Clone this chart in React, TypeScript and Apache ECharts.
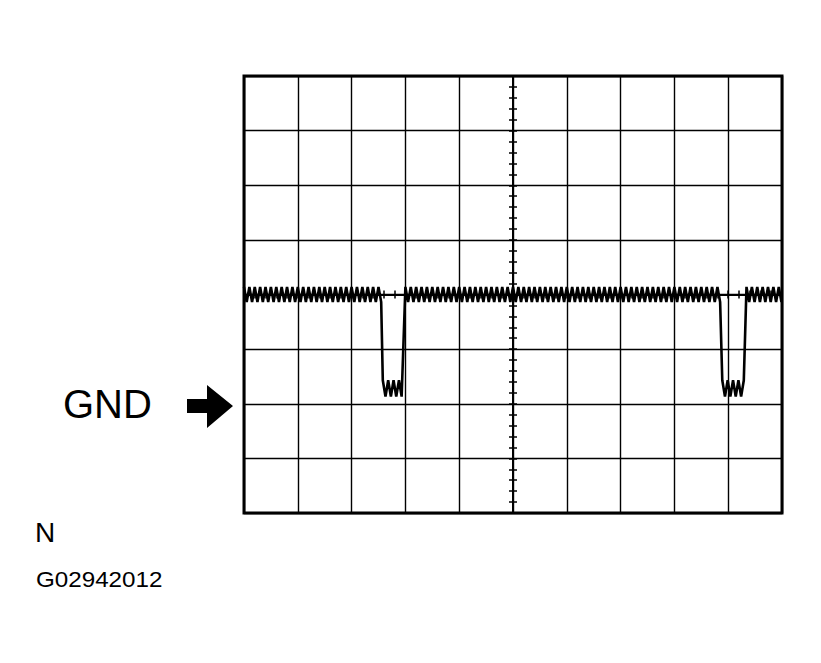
import { useEffect, useRef } from "react";
import * as echarts from "echarts";

// graticule in divisions, centre of the screen is 0,0
const X_MIN = -5;
const X_MAX = 5;
const Y_MIN = -4;
const Y_MAX = 4;

// trace: flat levels with a fine ripple on top
const segStart = [-5, -2.42, -2.0, 3.89, 4.34];
const segEnd = [-2.45, -2.04, 3.86, 4.3, 5];
const segLevel = [0, -1.72, 0, -1.72, 0];
const segRipple = [0.14, 0.15, 0.14, 0.15, 0.14];
const RIPPLE_STEP = 0.05; // half of one ripple period

function buildTrace(): number[][] {
    const pts: number[][] = [];
    segStart.forEach((from, i) => {
        let up = true;
        for (let x = from; x <= segEnd[i] + 1e-9; x += RIPPLE_STEP) {
            pts.push([x, segLevel[i] + (up ? segRipple[i] : -segRipple[i])]);
            up = !up;
        }
    });
    return pts;
}

export default function App() {
    const ref = useRef<HTMLDivElement>(null);

    useEffect(() => {
        if (!ref.current) return;
        const chart = echarts.init(ref.current, null, { renderer: "svg" });

        const centreAxis = (position: string, withGrid: boolean) => ({
            type: "value",
            position,
            interval: 1,
            axisLine: { show: true, onZero: true, lineStyle: { color: "#000", width: 2 } },
            axisTick: { show: true, length: 4, lineStyle: { color: "#000", width: 1.5 } },
            minorTick: { show: true, splitNumber: 5, length: 4, lineStyle: { color: "#000", width: 1.5 } },
            axisLabel: { show: false },
            splitLine: { show: withGrid, lineStyle: { color: "#000", width: 1.4 } },
        });

        chart.setOption({
            animation: false,
            backgroundColor: "#fff",
            grid: {
                left: 244,
                top: 76,
                width: 538,
                height: 437,
                show: true,
                borderColor: "#000",
                borderWidth: 3,
                backgroundColor: "transparent",
            },
            xAxis: [
                { ...centreAxis("bottom", true), min: X_MIN, max: X_MAX },
                { ...centreAxis("top", false), min: X_MIN, max: X_MAX },
            ],
            yAxis: [
                { ...centreAxis("left", true), min: Y_MIN, max: Y_MAX },
                { ...centreAxis("right", false), min: Y_MIN, max: Y_MAX },
            ],
            series: [
                {
                    type: "line",
                    data: buildTrace(),
                    symbol: "none",
                    lineStyle: { color: "#000", width: 2.6, join: "miter" },
                    z: 5,
                },
            ],
            graphic: [
                {
                    type: "text",
                    x: 63,
                    y: 404,
                    style: {
                        text: "GND",
                        font: '40px "Liberation Sans", Arial, sans-serif',
                        fill: "#000",
                        verticalAlign: "middle",
                    },
                },
                {
                    type: "polygon",
                    shape: {
                        points: [
                            [187, 399],
                            [207, 399],
                            [207, 385],
                            [233, 406],
                            [207, 428],
                            [207, 413],
                            [187, 413],
                        ],
                    },
                    style: { fill: "#000" },
                },
                {
                    type: "text",
                    x: 35,
                    y: 532,
                    style: {
                        text: "N",
                        font: '28px "Liberation Sans", Arial, sans-serif',
                        fill: "#000",
                        verticalAlign: "middle",
                    },
                },
                {
                    type: "text",
                    x: 36,
                    y: 579,
                    scaleX: 1.1,
                    style: {
                        text: "G02942012",
                        font: '22px "Liberation Sans", Arial, sans-serif',
                        fill: "#000",
                        verticalAlign: "middle",
                    },
                },
            ],
        });

        return () => chart.dispose();
    }, []);

    return (
        <div
            ref={ref}
            style={{ position: "absolute", left: 0, top: 0, width: 821, height: 663 }}
        />
    );
}
